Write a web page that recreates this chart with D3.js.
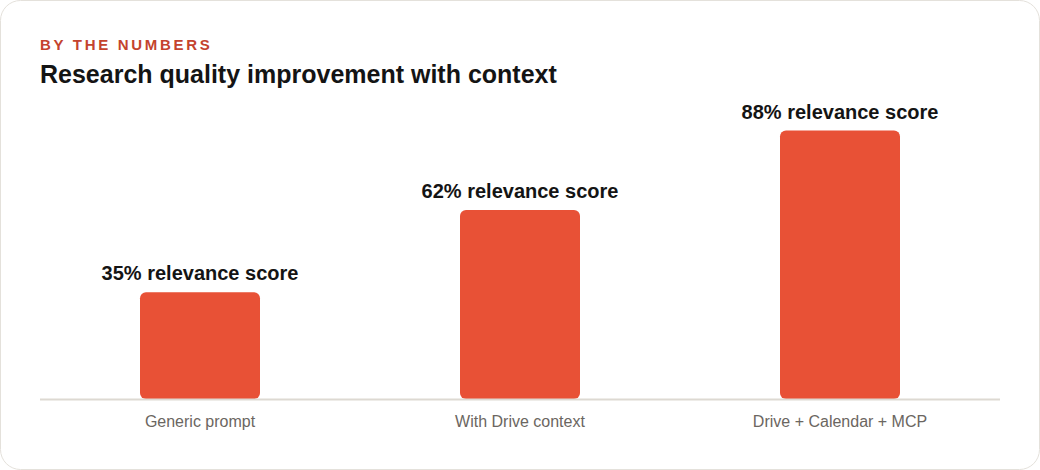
<!DOCTYPE html>
<html>
<head>
<meta charset="utf-8">
<script src="https://cdn.jsdelivr.net/npm/d3@7"></script>
<style>
  html, body { margin: 0; padding: 0; background: #ffffff; }
  svg { display: block; font-family: "Liberation Sans", Arial, Helvetica, sans-serif; }
</style>
</head>
<body>
<svg id="chart" width="1040" height="470"></svg>
<script>
const categories = ['Generic prompt', 'With Drive context', 'Drive + Calendar + MCP']
const scores = [35, 62, 88]
const scoreLabels = ['35% relevance score', '62% relevance score', '88% relevance score']

const width = 1040, height = 470
const baseY = 399

const svg = d3.select('#chart')

// card
svg.append('rect')
  .attr('x', 0.5).attr('y', 0.5)
  .attr('width', width - 1).attr('height', height - 1)
  .attr('rx', 20)
  .attr('fill', '#ffffff')
  .attr('stroke', '#e4e1db')

svg.append('text')
  .attr('x', 40).attr('y', 50)
  .attr('font-size', 15)
  .attr('font-weight', 700)
  .attr('letter-spacing', 2.7)
  .attr('fill', '#c4432e')
  .text('BY THE NUMBERS')

svg.append('text')
  .attr('x', 40).attr('y', 83)
  .attr('font-size', 25)
  .attr('font-weight', 700)
  .attr('fill', '#141414')
  .text('Research quality improvement with context')

const x = d3.scaleBand()
  .domain(categories)
  .range([40, 1000])
  .paddingInner(0.625)
  .paddingOuter(0.3125)

const y = d3.scaleLinear()
  .domain([0, 100])
  .range([baseY, 94])

const g = svg.append('g')

g.selectAll('rect.bar')
  .data(scores)
  .enter()
  .append('rect')
  .attr('class', 'bar')
  .attr('x', (d, i) => x(categories[i]))
  .attr('y', d => y(d))
  .attr('width', x.bandwidth())
  .attr('height', d => y(0) - y(d))
  .attr('rx', 6)
  .attr('fill', '#e85136')

// baseline
svg.append('line')
  .attr('x1', 40).attr('x2', 1000)
  .attr('y1', baseY + 0.5).attr('y2', baseY + 0.5)
  .attr('stroke', '#ddd9d2')
  .attr('stroke-width', 2)

g.selectAll('text.value')
  .data(scores)
  .enter()
  .append('text')
  .attr('class', 'value')
  .attr('text-anchor', 'middle')
  .attr('x', (d, i) => x(categories[i]) + x.bandwidth() / 2)
  .attr('y', d => y(d) - 12)
  .attr('font-size', 20)
  .attr('font-weight', 700)
  .attr('fill', '#141414')
  .text((d, i) => scoreLabels[i])

const xAxis = svg.append('g')
  .attr('transform', `translate(0,${baseY})`)
  .call(d3.axisBottom(x).tickSize(0).tickPadding(17))

xAxis.select('.domain').remove()
xAxis.selectAll('text')
  .attr('font-size', 16)
  .attr('font-family', '"Liberation Sans", Arial, sans-serif')
  .attr('fill', '#6b6661')
</script>
</body>
</html>
